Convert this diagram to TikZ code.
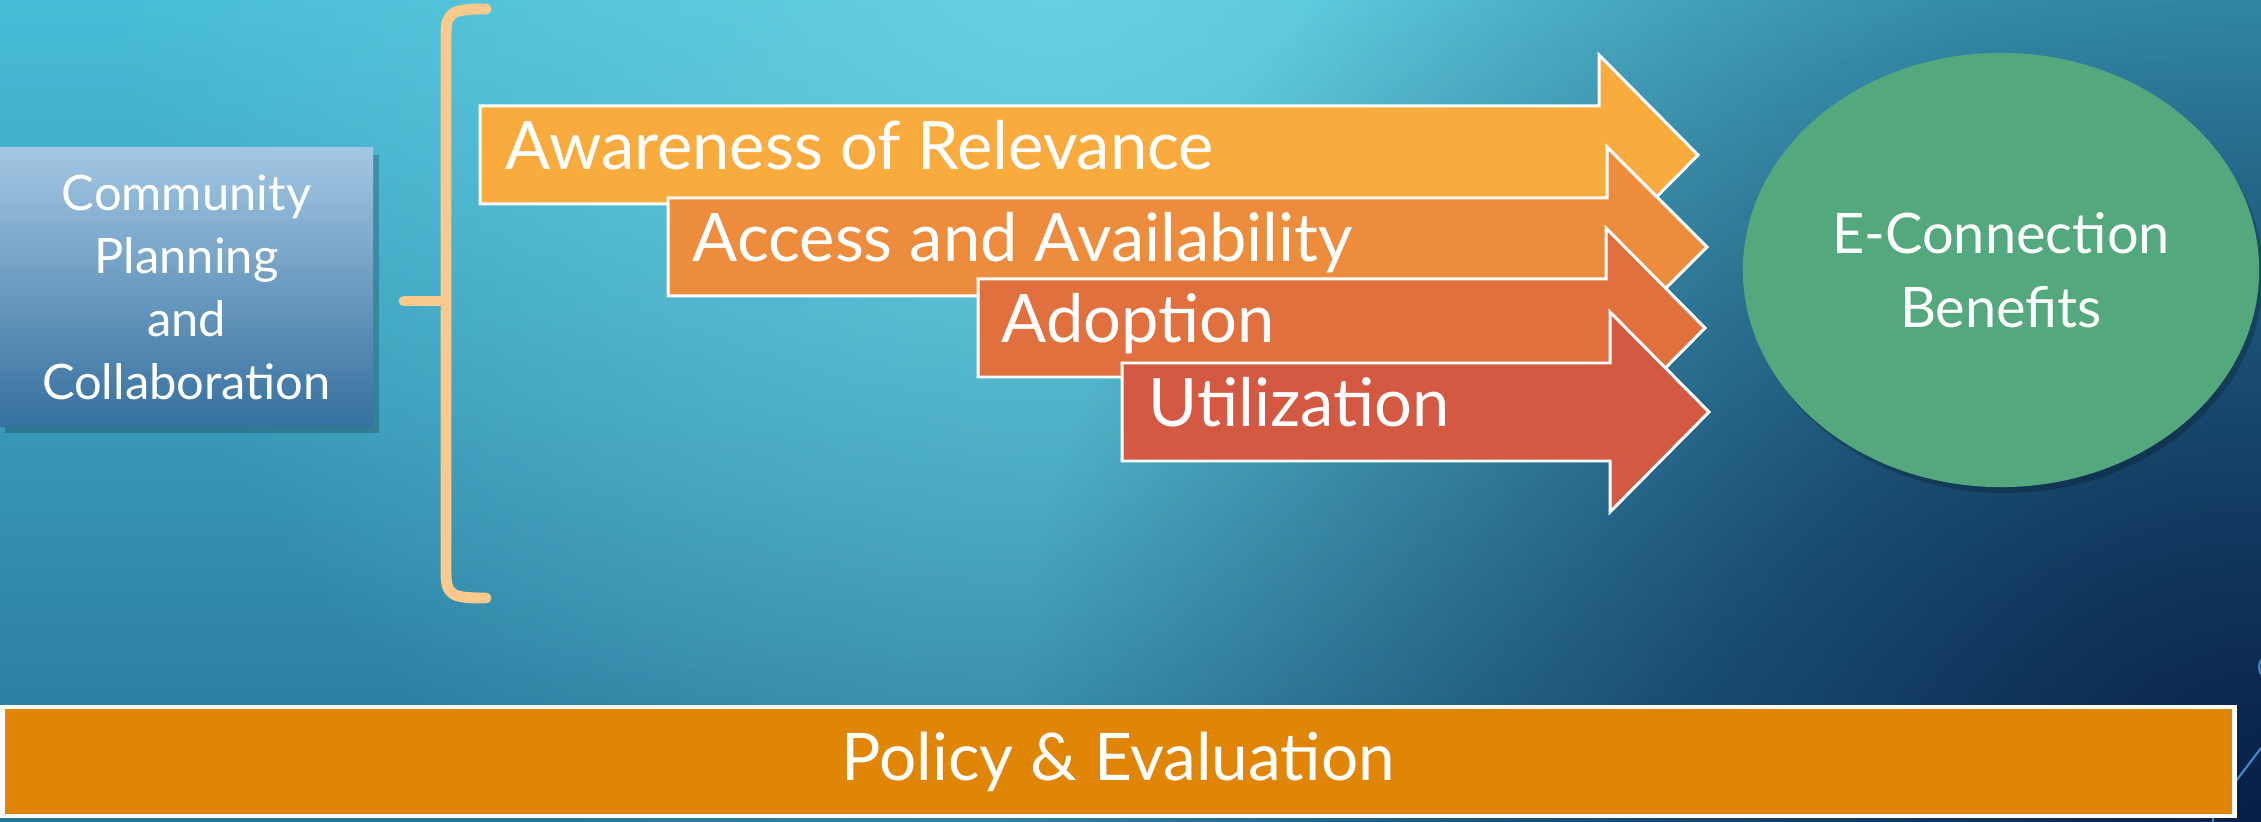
\documentclass[tikz,border=0pt]{standalone}
\usepackage{fontspec}
\setmainfont{Lato}
\usetikzlibrary{shapes.geometric, fadings}

\definecolor{bgtop}{rgb}{0.28,0.74,0.84}
\definecolor{bgbottom}{rgb}{0.16,0.46,0.60}
\definecolor{bglight}{rgb}{0.45,0.84,0.90}
\definecolor{bgdark}{rgb}{0.03,0.12,0.28}
\definecolor{boxtop}{rgb}{0.64,0.78,0.89}
\definecolor{boxbottom}{rgb}{0.21,0.44,0.62}
\definecolor{bracecol}{rgb}{0.98,0.79,0.55}
\definecolor{arrowA}{rgb}{0.98,0.67,0.24}
\definecolor{arrowB}{rgb}{0.93,0.55,0.24}
\definecolor{arrowC}{rgb}{0.88,0.44,0.24}
\definecolor{arrowD}{rgb}{0.83,0.35,0.26}
\definecolor{ellgreen}{rgb}{0.33,0.66,0.49}
\definecolor{barorange}{rgb}{0.88,0.52,0.02}
\definecolor{decoblue}{rgb}{0.24,0.55,0.80}

\tikzfading[name=glowfade, inner color=transparent!0, outer color=transparent!100]

\begin{document}
\begin{tikzpicture}[x=0.01cm, y=-0.01cm,
    arrowshape/.style={draw=white, line width=0.85pt, line join=miter},
    arrowtext/.style={anchor=base west, text=white, inner sep=0pt,
      font=\fontsize{19pt}{23pt}\selectfont}]
    \useasboundingbox (0,0) rectangle (2261,822);

    % background
    \fill[top color=bgtop, bottom color=bgbottom] (0,0) rectangle (2261,822);
    \begin{scope}
      \clip (0,0) rectangle (2261,822);
      \fill[bglight, path fading=glowfade, fill opacity=0.75] (1050,0) circle (950);
      \fill[bgdark, path fading=glowfade] (2261,822) circle (1250);
    \end{scope}
    \draw[decoblue, line width=0.6pt] (2272,667) circle (13);
    \draw[decoblue, line width=0.6pt] (2261,748) -- (2236,781);
    \draw[decoblue, line width=0.6pt] (2213,816) -- (2213,822);

    % left box
    \fill[black, opacity=0.2] (5,155) rectangle (379,433);
    \node (plan) [rectangle, top color=boxtop, bottom color=boxbottom,
      minimum width=3.73cm, minimum height=2.78cm, inner sep=0pt,
      text=white, align=center, font=\fontsize{13.9pt}{17.9pt}\selectfont]
      at (186.5,287) {Community\\Planning\\and\\Collaboration};

    % brace
    \draw[bracecol, line width=3.1pt, line cap=round]
      (486,9) .. controls (452,9) and (446,12) .. (446,35) -- (446,572)
      .. controls (446,596) and (452,598) .. (486,598);
    \draw[bracecol, line width=3.1pt, line cap=round] (446,301) -- (404,301);

    % staggered arrows
    \fill[arrowA, arrowshape] (480,106) -- (1599,106) -- (1599,55) -- (1698,155)
      -- (1599,255) -- (1599,204) -- (480,204) -- cycle;
    \node (aware) [arrowtext] at (505,170) {Awareness of Relevance};

    \fill[arrowB, arrowshape] (668,198) -- (1607,198) -- (1607,147) -- (1707,247)
      -- (1607,347) -- (1607,296) -- (668,296) -- cycle;
    \node (access) [arrowtext] at (692,262) {Access and Availability};

    \fill[arrowC, arrowshape] (978,279) -- (1606,279) -- (1606,228) -- (1705,328)
      -- (1606,428) -- (1606,377) -- (978,377) -- cycle;
    \node (adopt) [arrowtext] at (1001,343) {Adoption};

    \fill[arrowD, arrowshape] (1122,363) -- (1610,363) -- (1610,312) -- (1709,412)
      -- (1610,512) -- (1610,461) -- (1122,461) -- cycle;
    \node (util) [arrowtext] at (1148,427) {Utilization};

    % benefits
    \fill[black, opacity=0.2] (2005,276) ellipse (258 and 217);
    \node (ellipse) [ellipse, fill=ellgreen, minimum width=5.16cm,
      minimum height=4.34cm, inner sep=0pt] at (2001,270) {};
    \node (benefits) [text=white, align=center,
      font=\fontsize{15.9pt}{21pt}\selectfont] at (ellipse.center) {E-Connection\\Benefits};

    % policy bar
    \node (policy) [rectangle, fill=barorange, draw=white, line width=1.3pt,
      minimum width=22.31cm, minimum height=1.09cm, inner sep=0pt, text=white,
      font=\fontsize{18.7pt}{22pt}\selectfont] at (1118.5,761.5) {Policy \& Evaluation};
\end{tikzpicture}
\end{document}
